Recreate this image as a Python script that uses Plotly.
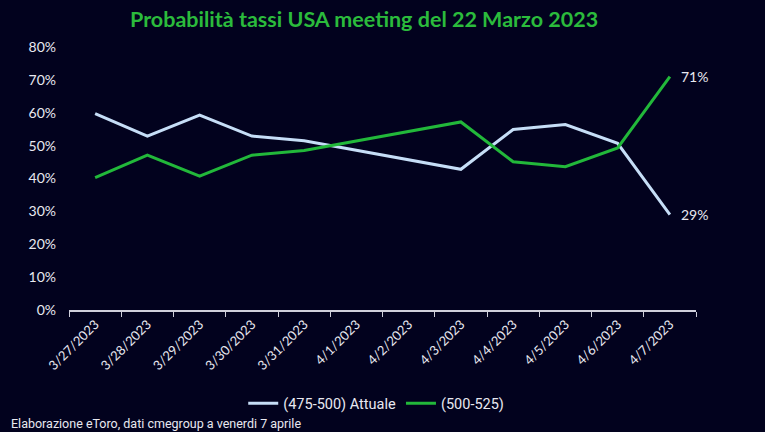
import plotly.graph_objects as go

dates = ["3/27/2023", "3/28/2023", "3/29/2023", "3/30/2023", "3/31/2023", "4/1/2023",
         "4/2/2023", "4/3/2023", "4/4/2023", "4/5/2023", "4/6/2023", "4/7/2023"]
attuale = [0.597, 0.529, 0.593, 0.529, 0.515, None, None, 0.428, 0.549, 0.564, 0.507, 0.29]
rialzo = [0.403, 0.471, 0.407, 0.471, 0.485, None, None, 0.572, 0.451, 0.436, 0.493, 0.71]
y_ticks = [0, 0.1, 0.2, 0.3, 0.4, 0.5, 0.6, 0.7, 0.8]

BG = "#02021e"
WHITE_LINE = "#c6def7"
GREEN = "#22b83a"
TXT = "#e8e8f0"
FONT = "Lato"

fig = go.Figure()
fig.add_trace(go.Scatter(x=dates, y=attuale, mode="lines", name="(475-500) Attuale",
                         line=dict(color=WHITE_LINE, width=3), connectgaps=True))
fig.add_trace(go.Scatter(x=dates, y=rialzo, mode="lines", name="(500-525)",
                         line=dict(color=GREEN, width=3), connectgaps=True))

for series in (attuale, rialzo):
    fig.add_annotation(x=dates[-1], y=series[-1], xref="x", yref="y",
                       text=f"{round(series[-1]*100)}%", showarrow=False,
                       xanchor="left", yanchor="middle", xshift=9,
                       font=dict(family=FONT, size=14, color=TXT))

fig.add_annotation(x=-0.096, y=-0.432, xref="paper", yref="paper",
                   text="Elaborazione eToro, dati cmegroup a venerdi 7 aprile",
                   showarrow=False, xanchor="left", yanchor="middle",
                   font=dict(family="Liberation Sans Narrow, Roboto, sans-serif", size=12.5, color=TXT))

fig.update_layout(
    width=765, height=432,
    paper_bgcolor=BG, plot_bgcolor=BG,
    margin=dict(l=69, r=69, t=47, b=122),
    title=dict(text="<b>Probabilità tassi USA meeting del 22 Marzo 2023</b>",
               x=0.476, xanchor="center", y=0.956, yanchor="middle",
               font=dict(family=FONT, size=21.5, color="#2bbb3c")),
    font=dict(family=FONT, color=TXT),
    showlegend=True,
    legend=dict(orientation="h", x=0.49, xanchor="center", y=-0.355, yanchor="middle",
                font=dict(family="Liberation Sans Narrow, Roboto, sans-serif", size=14.5, color=TXT),
                bgcolor="rgba(0,0,0,0)", itemwidth=30),
)
fig.update_xaxes(type="category", categoryorder="array", categoryarray=dates,
                 range=[-0.5, len(dates) - 0.5], tickangle=-45,
                 tickson="boundaries", ticks="outside", ticklen=5, tickcolor="#d0d0dc",
                 showline=True, linecolor="#d0d0dc", linewidth=1.5,
                 showgrid=False, zeroline=False,
                 tickfont=dict(family=FONT, size=13, color=TXT))
fig.update_yaxes(range=[0, 0.8], tickvals=y_ticks, tickformat=".0%",
                 showgrid=False, zeroline=False, showline=False, ticks="",
                 ticklabelstandoff=12,
                 tickfont=dict(family=FONT, size=14, color=TXT))

fig.write_html("out.html")
